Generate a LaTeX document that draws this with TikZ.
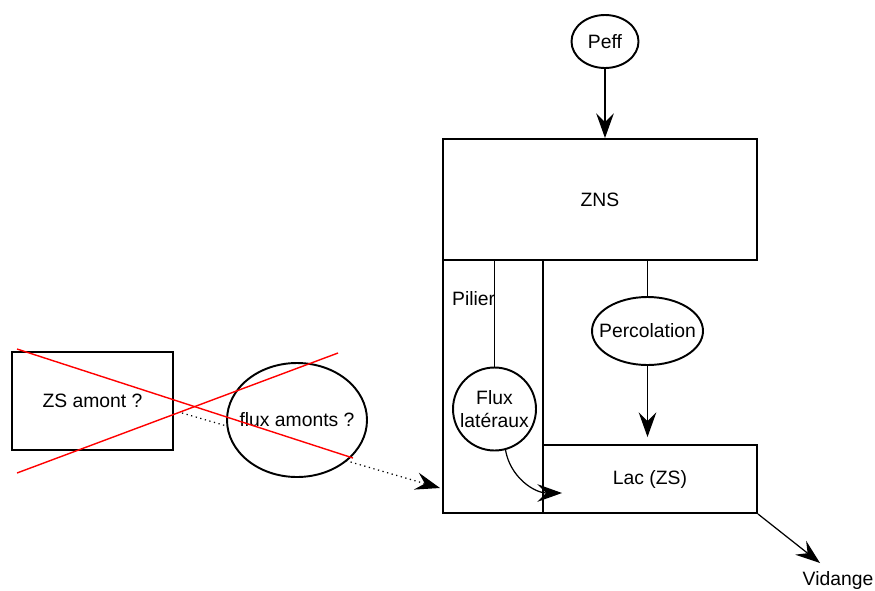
\documentclass[tikz,border=0pt]{standalone}
\usepackage{fontspec}
\setmainfont{Liberation Sans}
\usetikzlibrary{arrows.meta,shapes.geometric}
\begin{document}
\begin{tikzpicture}[
                every node/.style={font=\fontsize{11}{13}\selectfont},
                box/.style={draw, line width=1.1pt, fill=white},
                bulle/.style={ellipse, draw, line width=1.1pt, fill=white, inner sep=0pt},
                flow/.style={line width=0.7pt, -{Stealth[length=14pt,width=10pt,inset=5pt]}},
                croix/.style={red, line width=0.8pt}
                ]
                \useasboundingbox (0,0) rectangle (17.5,-11.8);
                % Boxes
                \node[box, minimum width=6.28cm, minimum height=2.42cm] (zns) at (12.0,-3.99) {ZNS};
                \node[box, minimum width=2.0cm, minimum height=5.06cm] (pilier) at (9.86,-7.73) {};
                \node[anchor=west] (pilierlabel) at (8.92,-5.98) {Pilier};
                \node[box, minimum width=4.28cm, minimum height=1.36cm] (lac) at (13.0,-9.58) {Lac (ZS)};
                \node[box, minimum width=3.22cm, minimum height=1.96cm] (zsamont) at (1.85,-8.02) {ZS amont ?};
                \node (vidange) at (16.76,-11.6) {Vidange};
                % Flux
                \coordinate (dotstart) at (3.64,-8.26);
                \coordinate (dotend) at (8.8,-9.76);
                \draw[flow, dotted] (dotstart) -- (dotend);
                \node[bulle, minimum width=1.34cm, minimum height=1.06cm] (peff) at (12.1,-0.83) {Peff};
                \node[bulle, inner xsep=-5.2pt, minimum width=2.22cm, minimum height=1.36cm] (perco) at (12.95,-6.62) {Percolation};
                \node[circle, draw, line width=1.1pt, fill=white, inner sep=0pt, minimum size=1.66cm, align=center] (flux) at (9.89,-8.18) {Flux\\latéraux};
                \node[bulle, inner xsep=-5pt, minimum width=2.8cm, minimum height=2.28cm] (fluxamont) at (5.94,-8.4) {flux amonts ?};
                \coordinate (fluxend) at (11.24,-9.86);
                \coordinate (vidend) at (16.4,-11.26);
                \draw[flow] (peff.south) -- (peff.south |- zns.north);
                \draw[line width=0.7pt] (flux.north |- zns.south) -- (flux.north);
                \draw[line width=0.7pt] (perco.north |- zns.south) -- (perco.north);
                \draw[flow, shorten >=0.14cm] (perco.south) -- (perco.south |- lac.north);
                \draw[flow] (flux.-75) to[out=-80, in=180] (fluxend);
                \draw[flow] (lac.south east) -- (vidend);
                % Crossed out
                \draw[croix] (0.34,-6.98) -- (7.06,-9.16);
                \draw[croix] (0.34,-9.46) -- (6.76,-7.06);
            \end{tikzpicture}
\end{document}
